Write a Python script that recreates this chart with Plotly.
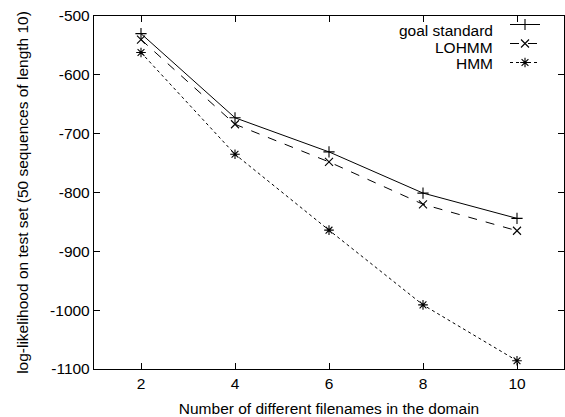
import plotly.graph_objects as go

x_vals = [2, 4, 6, 8, 10]
goal_standard = [-530, -673, -731, -801, -844]
lohmm = [-540, -684, -748, -820, -865]
hmm = [-562, -735, -864, -991, -1086]
series_names = ["goal standard", "LOHMM", "HMM"]
x_ticks = [2, 4, 6, 8, 10]
y_ticks = [-500, -600, -700, -800, -900, -1000, -1100]

FONT = "Liberation Sans, Arial, sans-serif"
FS = 15.5
fig = go.Figure()
styles = [("solid", "cross-thin"), ("dash", "x-thin"), ("dot", "asterisk")]
for name, ys, (dash, sym) in zip(series_names, [goal_standard, lohmm, hmm], styles):
    fig.add_trace(go.Scatter(
        x=x_vals, y=ys, mode="lines+markers", name=" ",
        line=dict(color="black", width=1, dash=dash),
        marker=dict(symbol=sym, size=8, color="black", line=dict(color="black", width=1.1)),
    ))

W, H = 565, 417
L, R, T, B = 94, 1, 16, 48
pw, ph = W - L - R, H - T - B
def px(xp):
    return (xp - L) / pw
def py(yp):
    return (H - B - yp) / ph

for name, yp in zip(series_names, [31, 47, 63]):
    fig.add_annotation(x=px(495), y=py(yp), xref="paper", yref="paper", text=name,
                       showarrow=False, xanchor="right", yanchor="middle",
                       font=dict(family=FONT, size=FS, color="black"))

axis_common = dict(showgrid=False, zeroline=False, showline=True, linecolor="black", linewidth=1.3,
                   mirror="ticks", ticks="inside", ticklen=6, tickcolor="black", tickwidth=1,
                   tickfont=dict(family=FONT, size=FS, color="black"))
fig.update_xaxes(range=[1, 11], tickvals=x_ticks, ticktext=[str(v) for v in x_ticks],
                 title=dict(text="Number of different filenames in the domain", standoff=13,
                            font=dict(family=FONT, size=FS, color="black")), **axis_common)
fig.update_yaxes(range=[-1100, -500], tickvals=y_ticks, ticktext=[str(v) for v in y_ticks],
                 title=dict(text="log-likelihood on test set (50 sequences of length 10)", standoff=17,
                            font=dict(family=FONT, size=FS, color="black")), **axis_common)
fig.update_layout(
    width=W, height=H, margin=dict(l=L, r=R, t=T, b=B, autoexpand=False),
    plot_bgcolor="white", paper_bgcolor="white",
    font=dict(family=FONT, size=FS, color="black"),
    showlegend=True,
    legend=dict(x=px(505), y=py(10), xanchor="left", yanchor="top", bgcolor="rgba(0,0,0,0)",
                font=dict(size=9), tracegroupgap=0, itemwidth=30),
)
fig.write_html("out.html", config={"displayModeBar": False},
               post_script="document.body.style.margin='0';document.documentElement.style.overflow='hidden';")
